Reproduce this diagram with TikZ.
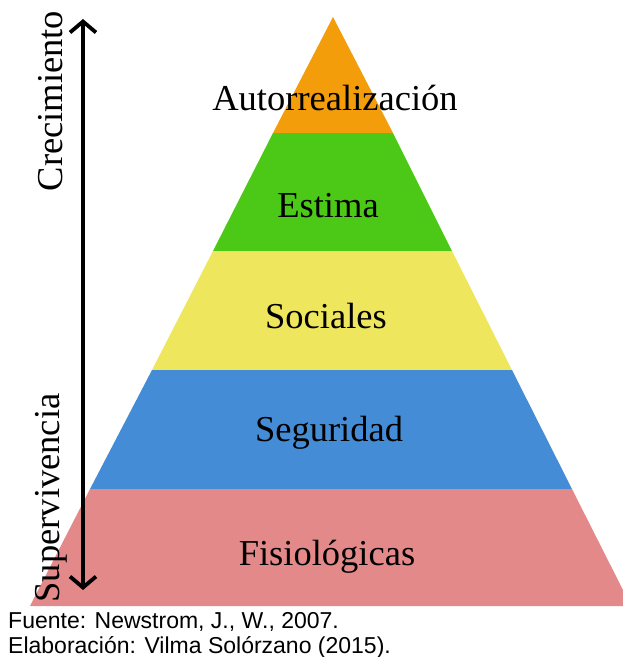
\documentclass[tikz,border=0pt]{standalone}
\usepackage{fontspec}
\setmainfont{Liberation Serif}
\newfontfamily\footfont{Liberation Sans}
\usetikzlibrary{arrows.meta}
\definecolor{cOrange}{RGB}{243,157,10}
\definecolor{cGreen}{RGB}{76,200,22}
\definecolor{cYellow}{RGB}{238,230,92}
\definecolor{cBlue}{RGB}{68,141,214}
\definecolor{cPink}{RGB}{228,137,137}
\tikzset{
  lvl/.style={font=\fontsize{36.5}{40}\selectfont, inner sep=0pt},
  side/.style={font=\fontsize{36.5}{40}\selectfont, inner sep=0pt, rotate=90},
  foot/.style={font=\footfont\fontsize{23}{25}\selectfont, inner sep=0pt, anchor=base west}
}
\begin{document}
\begin{tikzpicture}[x=1pt,y=-1pt]
\useasboundingbox (0,0) rectangle (623,657);
% pyramid bands
\fill[cOrange] (333,17) -- (393,133) -- (273,133) -- cycle;
\fill[cGreen] (273,133) -- (393,133) -- (452,251) -- (213,251) -- cycle;
\fill[cYellow] (213,251) -- (452,251) -- (512,370) -- (152,370) -- cycle;
\fill[cBlue] (152,370) -- (512,370) -- (572,489) -- (90,489) -- cycle;
\fill[cPink] (90,489) -- (572,489) -- (623,590) -- (623,606) -- (30,606) -- cycle;
% labels
\node[lvl] (auto) at (335,98) {Autorrealización};
\node[lvl] (est) at (328,206) {Estima};
\node[lvl] (soc) at (326,316) {Sociales};
\node[lvl] (seg) at (329,433) {Seguridad};
\node[lvl] (fis) at (327,557) {Fisiológicas};
% side arrow
\coordinate (atop) at (83,19);
\coordinate (abot) at (83,590);
\draw[line width=3.8pt, {Straight Barb[length=11pt,width=26pt]}-{Straight Barb[length=11pt,width=26pt]}] (abot) -- (atop);
\node[side, anchor=base] (crec) at (63,101) {Crecimiento};
\node[side, anchor=base] (sup) at (59,498) {Supervivencia};
% footer
\node[foot] (f1) at (8,628) {Fuente: Newstrom, J., W., 2007.};
\node[foot] (f2) at (8,653) {Elaboración: Vilma Solórzano (2015).};
\end{tikzpicture}
\end{document}
